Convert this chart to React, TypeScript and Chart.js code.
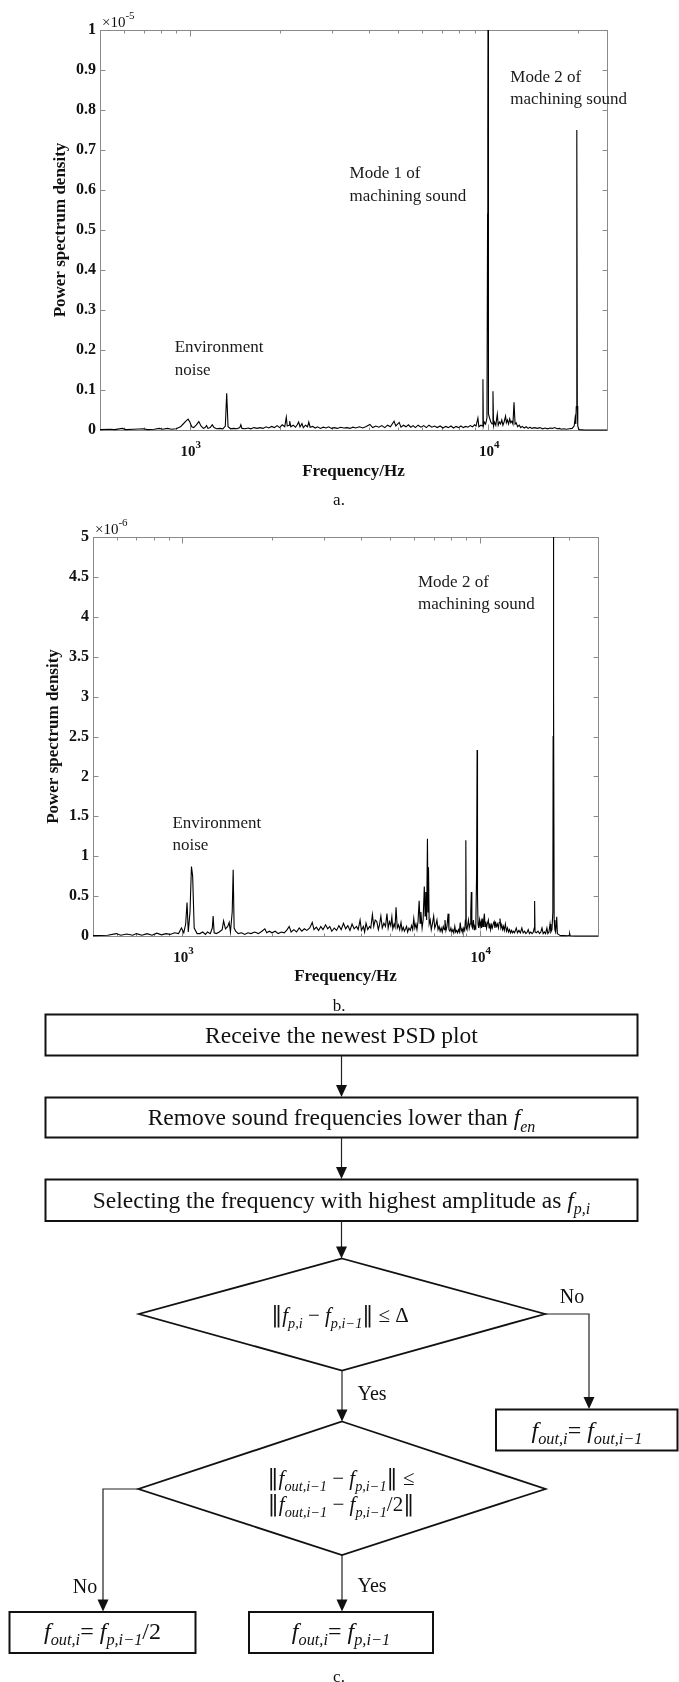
import React, { useEffect, useRef } from 'react';
import { Chart, registerables } from 'chart.js';

Chart.register(...registerables);

const SERIF = '"Liberation Serif", "Times New Roman", "DejaVu Serif", serif';
const MATHF = '"DejaVu Serif", serif';

// ---------- Chart a (values in units of 1e-5) ----------
const FREQ_A = [
  500, 540, 560, 594, 610, 650, 700, 720, 760, 790, 810, 840, 870, 900, 930, 950, 970, 987, 1000, 1015,
  1030, 1050, 1072, 1090, 1110, 1125, 1138, 1150, 1170, 1189, 1205, 1230, 1260, 1290, 1315, 1329, 1343, 1370, 1400, 1440,
  1470, 1482, 1495, 1530, 1570, 1600, 1640, 1680, 1720, 1760, 1800, 1840, 1880, 1920, 1960, 2000, 2040, 2080, 2105, 2120,
  2150, 2161, 2180, 2220, 2260, 2290, 2316, 2340, 2376, 2400, 2440, 2480, 2504, 2530, 2580, 2630, 2680, 2740, 2800, 2860,
  2920, 2980, 3050, 3120, 3200, 3280, 3360, 3440, 3520, 3600, 3700, 3800, 3900, 4013, 4100, 4200, 4300, 4400, 4500, 4600,
  4700, 4835, 4900, 5030, 5100, 5200, 5300, 5400, 5500, 5600, 5700, 5820, 5950, 6080, 6200, 6330, 6470, 6600, 6750, 6900,
  7050, 7200, 7350, 7500, 7650, 7800, 7950, 8100, 8250, 8400, 8550, 8700, 8850, 9000, 9100, 9232, 9300, 9450, 9560, 9597,
  9630, 9700, 9800, 9900, 9950, 9965, 9983, 10000, 10030, 10100, 10200, 10300, 10371, 10420, 10500, 10600, 10723, 10800, 10900, 11000,
  11100, 11200, 11300, 11430, 11500, 11600, 11700, 11800, 11900, 12000, 12100, 12200, 12300, 12400, 12550, 12700, 12850, 13000, 13200, 13400,
  13600, 13800, 14000, 14300, 14600, 14900, 15200, 15500, 15800, 16100, 16400, 16700, 17000, 17300, 17600, 17900, 18300, 18700, 19100, 19400,
  19550, 19650, 19720, 19780, 19830, 19880, 19950, 20100, 20300, 21000, 22000, 25000,
];
const PSD_A = [
  0.001, 0.002, 0.001, 0.004, 0.001, 0.002, 0.003, 0.001, 0.002, 0.004, 0.002, 0.004, 0.002, 0.003, 0.008, 0.015, 0.022, 0.027, 0.02, 0.008,
  0.006, 0.012, 0.021, 0.01, 0.004, 0.006, 0.011, 0.004, 0.006, 0.013, 0.006, 0.003, 0.004, 0.003, 0.01, 0.092, 0.008, 0.003, 0.004, 0.003,
  0.006, 0.013, 0.004, 0.003, 0.005, 0.003, 0.006, 0.004, 0.006, 0.004, 0.008, 0.005, 0.009, 0.006, 0.011, 0.006, 0.013, 0.008, 0.032, 0.01,
  0.012, 0.022, 0.008, 0.012, 0.007, 0.013, 0.02, 0.008, 0.016, 0.006, 0.012, 0.008, 0.02, 0.007, 0.009, 0.005, 0.008, 0.004, 0.007, 0.005,
  0.008, 0.004, 0.006, 0.004, 0.007, 0.005, 0.006, 0.004, 0.007, 0.005, 0.008, 0.005, 0.009, 0.014, 0.006, 0.01, 0.007, 0.011, 0.006, 0.012,
  0.008, 0.022, 0.01, 0.019, 0.007, 0.012, 0.008, 0.013, 0.007, 0.011, 0.006, 0.012, 0.007, 0.011, 0.006, 0.012, 0.007, 0.01, 0.006, 0.01,
  0.005, 0.009, 0.006, 0.01, 0.005, 0.009, 0.006, 0.01, 0.006, 0.009, 0.007, 0.011, 0.008, 0.013, 0.01, 0.03, 0.008, 0.012, 0.01, 0.127,
  0.01, 0.02, 0.015, 0.03, 0.54, 0.73, 1.05, 0.2, 0.04, 0.03, 0.02, 0.015, 0.097, 0.01, 0.02, 0.012, 0.04, 0.012, 0.02, 0.015,
  0.025, 0.012, 0.02, 0.035, 0.018, 0.025, 0.015, 0.028, 0.018, 0.022, 0.015, 0.069, 0.015, 0.018, 0.008, 0.012, 0.006, 0.009, 0.005, 0.008,
  0.004, 0.007, 0.004, 0.006, 0.004, 0.006, 0.003, 0.005, 0.003, 0.005, 0.004, 0.006, 0.003, 0.004, 0.002, 0.003, 0.002, 0.003, 0.004, 0.01,
  0.03, 0.015, 0.058, 0.24, 0.75, 0.06, 0.01, 0.002, 0.001, 0, 0, 0,
];

// ---------- Chart b (values in units of 1e-6) ----------
const FREQ_B = [
  500, 560, 599, 620, 650, 680, 700, 730, 760, 790, 820, 850, 880, 910, 940, 970, 992, 1010, 1025, 1036,
  1046, 1060, 1072, 1082, 1095, 1120, 1144, 1170, 1195, 1214, 1240, 1260, 1268, 1278, 1300, 1330, 1360, 1375, 1395, 1420,
  1436, 1450, 1470, 1481, 1492, 1510, 1540, 1580, 1620, 1660, 1700, 1750, 1800, 1850, 1893, 1920, 1960, 2000, 2050, 2100,
  2150, 2200, 2250, 2286, 2320, 2370, 2420, 2470, 2520, 2570, 2620, 2680, 2733, 2770, 2820, 2870, 2920, 2970, 3030, 3080,
  3130, 3180, 3240, 3300, 3360, 3420, 3480, 3540, 3600, 3660, 3720, 3780, 3850, 3900, 3958, 4000, 4060, 4100, 4145, 4200,
  4260, 4300, 4355, 4400, 4450, 4506, 4560, 4600, 4650, 4700, 4760, 4820, 4875, 4920, 4970, 5020, 5063, 5100, 5150, 5190,
  5230, 5280, 5330, 5380, 5435, 5480, 5530, 5580, 5630, 5675, 5720, 5780, 5840, 5900, 5950, 6000, 6050, 6100, 6150, 6200,
  6255, 6300, 6340, 6400, 6450, 6510, 6550, 6585, 6630, 6670, 6700, 6725, 6760, 6815, 6870, 6930, 7000, 7060, 7120, 7180,
  7240, 7300, 7360, 7420, 7480, 7540, 7600, 7640, 7700, 7760, 7830, 7880, 7940, 8000, 8060, 8120, 8180, 8245, 8300, 8360,
  8420, 8480, 8540, 8600, 8660, 8720, 8780, 8840, 8900, 8950, 8980, 9010, 9060, 9120, 9165, 9220, 9280, 9330, 9370, 9410,
  9460, 9520, 9580, 9640, 9700, 9760, 9800, 9830, 9870, 9920, 9980, 10040, 10100, 10150, 10200, 10260, 10310, 10370, 10420, 10480,
  10540, 10600, 10690, 10750, 10820, 10880, 10950, 11020, 11100, 11180, 11250, 11330, 11400, 11480, 11560, 11630, 11700, 11780, 11860, 11940,
  12020, 12100, 12200, 12300, 12400, 12500, 12600, 12700, 12800, 12900, 13000, 13100, 13270, 13400, 13550, 13700, 13860, 14000, 14150, 14300,
  14450, 14560, 14700, 14850, 15000, 15150, 15250, 15300, 15350, 15500, 15700, 15900, 16050, 16200, 16350, 16500, 16650, 16830, 16950, 17100,
  17240, 17350, 17500, 17620, 17660, 17700, 17740, 17800, 17900, 18000, 18160, 18250, 18400, 18600, 18800, 19200, 19700, 20000, 20080, 20160,
  21000, 25000,
];
const PSD_B = [
  0.005, 0.01, 0.03, 0.01, 0.025, 0.01, 0.03, 0.01, 0.03, 0.01, 0.035, 0.015, 0.03, 0.02, 0.04, 0.03, 0.1, 0.04, 0.15, 0.42,
  0.05, 0.3, 0.87, 0.75, 0.1, 0.03, 0.03, 0.05, 0.02, 0.05, 0.03, 0.1, 0.25, 0.04, 0.03, 0.05, 0.08, 0.19, 0.09, 0.12,
  0.17, 0.05, 0.3, 0.83, 0.1, 0.06, 0.03, 0.04, 0.02, 0.04, 0.03, 0.05, 0.03, 0.06, 0.09, 0.04, 0.06, 0.04, 0.06, 0.03,
  0.05, 0.04, 0.08, 0.12, 0.05, 0.08, 0.05, 0.1, 0.06, 0.09, 0.07, 0.1, 0.17, 0.08, 0.11, 0.07, 0.12, 0.08, 0.14, 0.09,
  0.12, 0.06, 0.1, 0.07, 0.13, 0.08, 0.16, 0.09, 0.13, 0.07, 0.15, 0.09, 0.12, 0.08, 0.2, 0.07, 0.12, 0.05, 0.16, 0.08,
  0.12, 0.1, 0.27, 0.12, 0.2, 0.18, 0.08, 0.14, 0.25, 0.1, 0.16, 0.12, 0.28, 0.1, 0.18, 0.13, 0.24, 0.09, 0.15, 0.11,
  0.36, 0.1, 0.14, 0.08, 0.17, 0.07, 0.11, 0.06, 0.09, 0.12, 0.05, 0.1, 0.07, 0.13, 0.08, 0.22, 0.1, 0.15, 0.08, 0.18,
  0.44, 0.16, 0.3, 0.1, 0.2, 0.62, 0.25, 0.55, 0.2, 1.22, 0.3, 0.86, 0.15, 0.2, 0.08, 0.15, 0.25, 0.1, 0.14, 0.2,
  0.08, 0.12, 0.06, 0.1, 0.05, 0.12, 0.08, 0.2, 0.07, 0.12, 0.28, 0.08, 0.06, 0.1, 0.05, 0.08, 0.04, 0.12, 0.05, 0.07,
  0.04, 0.08, 0.05, 0.17, 0.06, 0.09, 0.04, 0.1, 0.07, 0.2, 1.2, 0.1, 0.08, 0.15, 0.2, 0.1, 0.15, 0.3, 0.55, 0.12,
  0.1, 0.2, 0.08, 0.12, 0.1, 0.78, 2.33, 0.5, 0.15, 0.1, 0.2, 0.12, 0.18, 0.1, 0.22, 0.12, 0.2, 0.28, 0.12, 0.18,
  0.1, 0.15, 0.2, 0.1, 0.16, 0.08, 0.14, 0.1, 0.15, 0.18, 0.1, 0.16, 0.12, 0.15, 0.1, 0.17, 0.22, 0.1, 0.14, 0.08,
  0.12, 0.07, 0.15, 0.06, 0.1, 0.05, 0.08, 0.04, 0.07, 0.04, 0.06, 0.04, 0.1, 0.04, 0.07, 0.04, 0.1, 0.04, 0.06, 0.03,
  0.05, 0.08, 0.03, 0.05, 0.03, 0.05, 0.1, 0.44, 0.05, 0.04, 0.06, 0.03, 0.05, 0.1, 0.03, 0.05, 0.03, 0.1, 0.03, 0.05,
  0.15, 0.05, 0.08, 0.3, 2.5, 5.2, 3.0, 0.2, 0.08, 0.05, 0.24, 0.03, 0.02, 0.01, 0.005, 0.005, 0.003, 0.01, 0.03, 0.003,
  0, 0,
];

// ---------- shared axis settings ----------
const X_MIN = 500;
const X_MAX = 25000;
const X_MAJOR = [1000, 10000];
const X_MAJOR_EXP = ['3', '4'];
const X_MINOR = [600, 700, 800, 900, 2000, 3000, 4000, 5000, 6000, 7000, 8000, 9000, 20000];
const Y_TITLE = 'Power spectrum density';
const X_TITLE = 'Frequency/Hz';

const NOTES_A = [
  { f: 3430, v: 0.64, lines: ['Mode 1 of', 'machining sound'] },
  { f: 11860, v: 0.882, lines: ['Mode 2 of', 'machining sound'] },
  { f: 890, v: 0.205, lines: ['Environment', 'noise'] },
];
const NOTES_B = [
  { f: 6200, v: 4.43, lines: ['Mode 2 of', 'machining sound'] },
  { f: 925, v: 1.41, lines: ['Environment', 'noise'] },
];

type Note = { f: number; v: number; lines: string[] };
type Props = {
  freq: number[];
  psd: number[];
  yMax: number;
  yStep: number;
  exp: string;
  notes: Note[];
  top: number;
  height: number;
  yWidth: number;
  padTop: number;
  padRight: number;
  xHeight: number;
  yTitlePad: number;
  xTitlePad: number;
};

const fmtTick = (v: number) => {
  const r = Math.round(v * 10) / 10;
  return Number.isInteger(r) ? String(r) : r.toFixed(1);
};

function PSDChart(p: Props) {
  const ref = useRef<HTMLCanvasElement>(null);
  useEffect(() => {
    if (!ref.current) return;
    const decor = {
      id: 'decor',
      beforeDatasetsDraw(chart: any) {
        const { ctx, chartArea: ca, scales } = chart;
        const xs = scales.x;
        const ys = scales.y;
        ctx.save();
        ctx.strokeStyle = '#8a8a8a';
        ctx.lineWidth = 1;
        const L = Math.round(ca.left) + 0.5;
        const R = Math.round(ca.right) + 0.5;
        const T = Math.round(ca.top) + 0.5;
        const B = Math.round(ca.bottom) + 0.5;
        ctx.strokeRect(L, T, R - L, B - T);
        ctx.beginPath();
        for (const t of ys.ticks) {
          const py = Math.round(ys.getPixelForValue(t.value)) + 0.5;
          ctx.moveTo(L, py); ctx.lineTo(L + 5, py);
          ctx.moveTo(R, py); ctx.lineTo(R - 5, py);
        }
        for (const v of X_MINOR) {
          const px = Math.round(xs.getPixelForValue(v)) + 0.5;
          ctx.moveTo(px, T); ctx.lineTo(px, T + 3);
          ctx.moveTo(px, B); ctx.lineTo(px, B - 3);
        }
        for (const v of X_MAJOR) {
          const px = Math.round(xs.getPixelForValue(v)) + 0.5;
          ctx.moveTo(px, T); ctx.lineTo(px, T + 6);
          ctx.moveTo(px, B); ctx.lineTo(px, B - 6);
        }
        ctx.stroke();
        ctx.restore();
      },
      afterDraw(chart: any) {
        const { ctx, chartArea: ca, scales } = chart;
        const xs = scales.x;
        const ys = scales.y;
        ctx.save();
        ctx.fillStyle = '#111';
        ctx.textBaseline = 'middle';
        ctx.textAlign = 'left';
        X_MAJOR.forEach((v, i) => {
          const px = xs.getPixelForValue(v);
          ctx.font = `bold 15px ${SERIF}`;
          const w1 = ctx.measureText('10').width;
          ctx.font = `bold 11px ${SERIF}`;
          const w2 = ctx.measureText(X_MAJOR_EXP[i]).width;
          const x0 = px - (w1 + w2) / 2 + 1;
          ctx.font = `bold 15px ${SERIF}`;
          ctx.fillText('10', x0, ca.bottom + 22);
          ctx.font = `bold 11px ${SERIF}`;
          ctx.fillText(X_MAJOR_EXP[i], x0 + w1, ca.bottom + 15);
        });
        ctx.font = `15px ${SERIF}`;
        const wm = ctx.measureText('\u00d710').width;
        ctx.fillText('\u00d710', ca.left + 2, ca.top - 7);
        ctx.font = `11px ${SERIF}`;
        ctx.fillText(p.exp, ca.left + 2 + wm, ca.top - 14);
        ctx.font = `17px ${SERIF}`;
        ctx.fillStyle = '#1a1a1a';
        for (const n of p.notes) {
          const nx = xs.getPixelForValue(n.f);
          const ny = ys.getPixelForValue(n.v);
          n.lines.forEach((s, k) => ctx.fillText(s, nx, ny + k * 22.5));
        }
        ctx.restore();
      },
    };
    const chart = new Chart(ref.current, {
      type: 'line',
      data: {
        datasets: [
          {
            data: p.freq.map((f, i) => ({ x: f, y: p.psd[i] })),
            borderColor: '#000',
            borderWidth: 1.1,
            pointRadius: 0,
            tension: 0,
            fill: false,
            clip: { left: 0, top: 0, right: 0, bottom: 2 } as any,
          },
        ],
      },
      options: {
        animation: false,
        responsive: false,
        events: [],
        layout: { padding: { left: 0, top: p.padTop, right: p.padRight, bottom: 0 } },
        plugins: { legend: { display: false }, tooltip: { enabled: false } },
        scales: {
          x: {
            type: 'logarithmic',
            min: X_MIN,
            max: X_MAX,
            afterFit: (s: any) => { s.height = p.xHeight; },
            ticks: { display: false },
            grid: { display: false, drawTicks: false },
            border: { display: false },
            title: {
              display: true,
              text: X_TITLE,
              color: '#111',
              font: { family: SERIF, weight: 'bold', size: 17, lineHeight: 1 },
              padding: { top: 0, bottom: p.xTitlePad },
            },
          },
          y: {
            min: 0,
            max: p.yMax,
            afterFit: (s: any) => { s.width = p.yWidth; },
            ticks: {
              stepSize: p.yStep,
              padding: 4,
              color: '#111',
              font: { family: SERIF, weight: 'bold', size: 16 },
              callback: (v: any) => fmtTick(Number(v)),
            },
            grid: { display: false, drawTicks: false },
            border: { display: false },
            title: {
              display: true,
              text: Y_TITLE,
              color: '#111',
              font: { family: SERIF, weight: 'bold', size: 17, lineHeight: 1 },
              padding: { top: p.yTitlePad, bottom: 0 },
            },
          },
        },
      } as any,
      plugins: [decor],
    });
    return () => chart.destroy();
  }, []);
  return (
    <canvas
      ref={ref}
      width={679}
      height={p.height}
      style={{ position: 'absolute', left: 0, top: p.top, width: 679, height: p.height, display: 'block' }}
    />
  );
}

type Seg = { t: string; it?: boolean; sub?: boolean; bar?: boolean };
function MathText({ x, cy, size, segs }: { x: number; cy: number; size: number; segs: Seg[] }) {
  let cur = 0;
  return (
    <text
      x={x}
      y={cy + size * 0.32}
      fontSize={size}
      textAnchor="middle"
      fontFamily={SERIF}
      fill="#111"
      style={{ whiteSpace: 'pre' }}
    >
      {segs.map((s, i) => {
        const target = s.sub ? size * 0.28 : 0;
        const dy = target - cur;
        cur = target;
        return (
          <tspan
            key={i}
            dy={dy}
            fontStyle={s.it ? 'italic' : 'normal'}
            fontFamily={s.bar ? MATHF : undefined}
            fontSize={s.sub ? size * 0.68 : s.bar ? size * 1.05 : size}
          >
            {s.t}
          </tspan>
        );
      })}
    </text>
  );
}

const Arrow = ({ x, y1, y2 }: { x: number; y1: number; y2: number }) => (
  <g>
    <line x1={x} y1={y1} x2={x} y2={y2 - 11} stroke="#222" strokeWidth={1.2} />
    <polygon points={`${x - 5.5},${y2 - 12} ${x + 5.5},${y2 - 12} ${x},${y2}`} fill="#111" />
  </g>
);

const f = (sub: string): Seg[] => [{ t: 'f', it: true }, { t: sub, it: true, sub: true }];
const BAR: Seg = { t: '\u2016', bar: true };

function Flow() {
  const stroke = '#111';
  return (
    <svg width={679} height={1682} style={{ position: 'absolute', left: 0, top: 0 }}>
      <text x={339} y={505} fontSize={17} textAnchor="middle" fontFamily={SERIF} fill="#111">a.</text>
      <text x={339} y={1011} fontSize={17} textAnchor="middle" fontFamily={SERIF} fill="#111">b.</text>

      <rect x={45.5} y={1014.5} width={592} height={41} fill="none" stroke={stroke} strokeWidth={2} />
      <MathText x={341.5} cy={1035} size={23.5} segs={[{ t: 'Receive the newest PSD plot' }]} />
      <Arrow x={341.5} y1={1056} y2={1097} />

      <rect x={45.5} y={1097.5} width={592} height={40} fill="none" stroke={stroke} strokeWidth={2} />
      <MathText x={341.5} cy={1117.5} size={23.5} segs={[{ t: 'Remove sound frequencies lower than ' }, ...f('en')]} />
      <Arrow x={341.5} y1={1138} y2={1179} />

      <rect x={45.5} y={1179.5} width={592} height={41.5} fill="none" stroke={stroke} strokeWidth={2} />
      <MathText x={341.5} cy={1200} size={23.5} segs={[{ t: 'Selecting the frequency with highest amplitude as ' }, ...f('p,i')]} />
      <Arrow x={341.5} y1={1221} y2={1258.5} />

      <polygon points="342,1258.5 545,1314 342,1370.5 139,1314" fill="none" stroke={stroke} strokeWidth={1.8} />
      <MathText x={340} cy={1315} size={21} segs={[BAR, ...f('p,i'), { t: ' \u2212 ' }, ...f('p,i\u22121'), BAR, { t: ' \u2264 \u0394' }]} />

      <text x={572} y={1303} fontSize={20} textAnchor="middle" fontFamily={SERIF} fill="#111">No</text>
      <polyline points="545,1314 589,1314 589,1398" fill="none" stroke="#222" strokeWidth={1.2} />
      <Arrow x={589} y1={1398} y2={1409} />
      <rect x={496} y={1409.5} width={181.5} height={41} fill="none" stroke={stroke} strokeWidth={2} />
      <MathText x={587} cy={1430} size={24} segs={[...f('out,i'), { t: '= ' }, ...f('out,i\u22121')]} />

      <Arrow x={342} y1={1370.5} y2={1421.5} />
      <text x={372} y={1400} fontSize={20} textAnchor="middle" fontFamily={SERIF} fill="#111">Yes</text>

      <polygon points="342,1421.5 545.5,1489 342,1555 138.5,1489" fill="none" stroke={stroke} strokeWidth={1.8} />
      <MathText x={341} cy={1478} size={21} segs={[BAR, ...f('out,i\u22121'), { t: ' \u2212 ' }, ...f('p,i\u22121'), BAR, { t: ' \u2264' }]} />
      <MathText x={341} cy={1504} size={21} segs={[BAR, ...f('out,i\u22121'), { t: ' \u2212 ' }, ...f('p,i\u22121'), { t: '/2' }, BAR]} />

      <polyline points="138.5,1489 103,1489 103,1600" fill="none" stroke="#222" strokeWidth={1.2} />
      <Arrow x={103} y1={1600} y2={1611.5} />
      <text x={85} y={1593} fontSize={20} textAnchor="middle" fontFamily={SERIF} fill="#111">No</text>

      <Arrow x={342} y1={1555} y2={1611.5} />
      <text x={372} y={1592} fontSize={20} textAnchor="middle" fontFamily={SERIF} fill="#111">Yes</text>

      <rect x={9.5} y={1612} width={186} height={41} fill="none" stroke={stroke} strokeWidth={2} />
      <MathText x={102.5} cy={1631} size={24} segs={[...f('out,i'), { t: '= ' }, ...f('p,i\u22121'), { t: '/2' }]} />

      <rect x={249} y={1612} width={184} height={41} fill="none" stroke={stroke} strokeWidth={2} />
      <MathText x={341} cy={1631} size={24} segs={[...f('out,i'), { t: '= ' }, ...f('p,i\u22121')]} />

      <text x={339} y={1682} fontSize={17} textAnchor="middle" fontFamily={SERIF} fill="#111">c.</text>
    </svg>
  );
}

export default function App() {
  useEffect(() => {
    document.body.style.margin = '0';
  }, []);
  return (
    <div style={{ position: 'absolute', left: 0, top: 0, width: 679, height: 1682, background: '#fff', overflow: 'hidden' }}>
      <PSDChart
        freq={FREQ_A}
        psd={PSD_A}
        yMax={1}
        yStep={0.1}
        exp="-5"
        notes={NOTES_A}
        top={0}
        height={490}
        yWidth={100}
        padTop={30}
        padRight={72}
        xHeight={60}
        yTitlePad={52}
        xTitlePad={9.5}
      />
      <PSDChart
        freq={FREQ_B}
        psd={PSD_B}
        yMax={5}
        yStep={0.5}
        exp="-6"
        notes={NOTES_B}
        top={490}
        height={510}
        yWidth={93}
        padTop={47}
        padRight={81}
        xHeight={64}
        yTitlePad={45.5}
        xTitlePad={14.5}
      />
      <Flow />
    </div>
  );
}
